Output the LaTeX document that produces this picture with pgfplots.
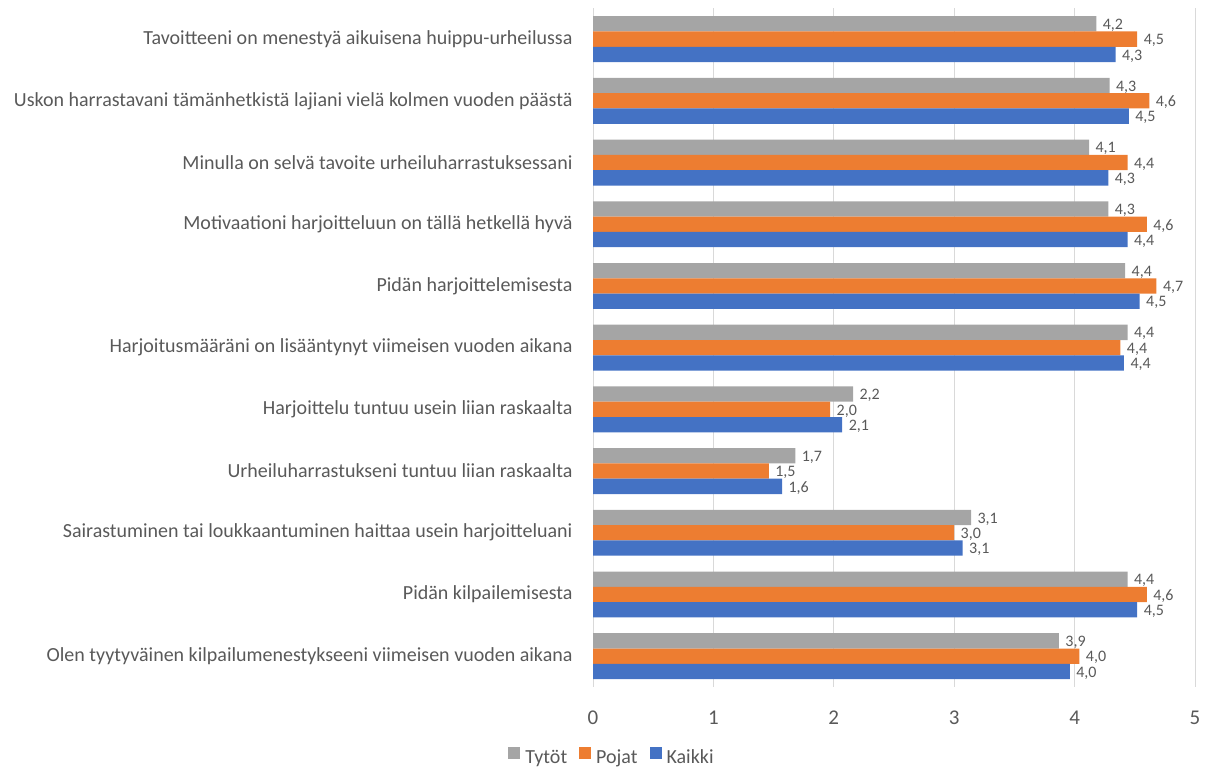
\documentclass[border=0pt]{standalone}
\usepackage{fontspec}
\setmainfont{Carlito}
\usepackage{pgfplots}
\pgfplotsset{compat=1.18}
\usepackage{pgfplotstable}

\definecolor{txtgray}{HTML}{595959}
\definecolor{gridgray}{HTML}{D9D9D9}
\definecolor{sgray}{HTML}{A5A5A5}
\definecolor{sorange}{HTML}{ED7D31}
\definecolor{sblue}{HTML}{4472C4}

% Keskiarvot (asteikko 0-5); rivi = väittämä ylhäältä alas
\pgfplotstableread{
y tytot pojat kaikki
0  4.18 4.52 4.34
1  4.29 4.62 4.45
2  4.12 4.44 4.28
3  4.28 4.60 4.44
4  4.42 4.68 4.54
5  4.44 4.38 4.41
6  2.16 1.97 2.07
7  1.68 1.46 1.57
8  3.14 3.00 3.07
9  4.44 4.60 4.52
10 3.87 4.04 3.96
}\datatable

\begin{document}
\begin{tikzpicture}
\useasboundingbox (0,0) rectangle (1206pt,770pt);
\begin{axis}[
  at={(593pt,83pt)}, anchor=south west,
  scale only axis,
  width=602pt, height=678.7pt,
  xbar, bar width=15.3pt,
  xmin=0, xmax=5, ymin=-0.5, ymax=10.5,
  y dir=reverse,
  axis line style={draw=none},
  xmajorgrids, grid style={gridgray, line width=1pt},
  xtick={0,1,2,3,4,5},
  ytick={0,...,10},
  yticklabels={
    Tavoitteeni on menestyä aikuisena huippu-urheilussa,
    Uskon harrastavani tämänhetkistä lajiani vielä kolmen vuoden päästä,
    Minulla on selvä tavoite urheiluharrastuksessani,
    Motivaationi harjoitteluun on tällä hetkellä hyvä,
    Pidän harjoittelemisesta,
    Harjoitusmääräni on lisääntynyt viimeisen vuoden aikana,
    Harjoittelu tuntuu usein liian raskaalta,
    Urheiluharrastukseni tuntuu liian raskaalta,
    Sairastuminen tai loukkaantuminen haittaa usein harjoitteluani,
    Pidän kilpailemisesta,
    Olen tyytyväinen kilpailumenestykseeni viimeisen vuoden aikana},
  major tick length=0pt,
  yticklabel style={font=\fontsize{20}{24}\selectfont, text=txtgray, anchor=east, xshift=-17pt},
  xticklabel style={font=\fontsize{21}{25}\selectfont, text=txtgray, yshift=-20pt},
  /pgf/number format/assume math mode=true,
  nodes near coords,
  nodes near coords style={font=\fontsize{16}{19}\selectfont, text=txtgray, xshift=3pt, yshift=-1.5pt,
    /pgf/number format/.cd, fixed, fixed zerofill, precision=1, use comma, assume math mode=true},
  legend columns=-1,
  legend style={at={(0.0316,-0.1046)}, anchor=center, draw=none, fill=none,
    font=\fontsize{20}{24}\selectfont, text=txtgray,
    nodes={text height=13pt, text depth=4pt},
    /tikz/every odd column/.append style={column sep=3pt},
    /tikz/every even column/.append style={column sep=10pt}},
  legend image code/.code={\path (0pt,-6pt); \fill[#1] (0pt,0pt) rectangle (12pt,11.5pt);},
]
\addplot[fill=sgray, draw=none, bar shift=15.3pt] table[x=tytot, y=y] {\datatable};
\addplot[fill=sorange, draw=none, bar shift=0pt] table[x=pojat, y=y] {\datatable};
\addplot[fill=sblue, draw=none, bar shift=-15.3pt] table[x=kaikki, y=y] {\datatable};
\legend{Tytöt, Pojat, Kaikki}
\end{axis}
\end{tikzpicture}
\end{document}
